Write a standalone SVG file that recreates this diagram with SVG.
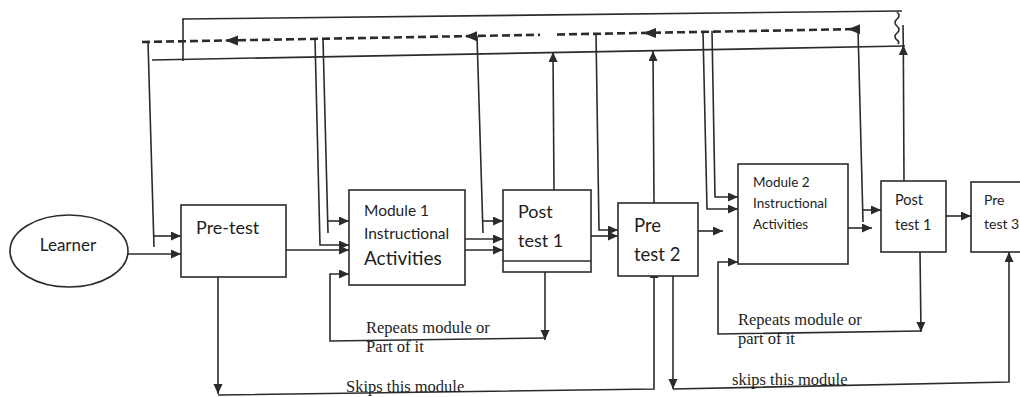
<svg xmlns="http://www.w3.org/2000/svg" width="1020" height="397" viewBox="0 0 1020 397">
<defs>
<marker id="ah" markerUnits="userSpaceOnUse" markerWidth="11" markerHeight="10" refX="10" refY="4.5" orient="auto">
<path d="M0,0 L10,4.5 L0,9 z" fill="#2b2b2b"/>
</marker>
<style>
.box{fill:#fff;stroke:#2b2b2b;stroke-width:1.6}
.ln{fill:none;stroke:#2b2b2b;stroke-width:1.6}
.ar{fill:none;stroke:#2b2b2b;stroke-width:1.6;marker-end:url(#ah)}
.dash{fill:none;stroke:#2b2b2b;stroke-width:2.6;stroke-dasharray:8 4}
.dh{fill:#2b2b2b}
.sans{font-family:Lato,"Open Sans","Liberation Sans",sans-serif;fill:#1e1e1e}
.serif{font-family:"Liberation Serif","Times New Roman",serif;fill:#1e1e1e;font-size:16.5px}
</style>
</defs>
<rect width="1020" height="397" fill="#fff"/>

<g id="connectors">
<!-- top feedback lines -->
<path class="ln" d="M182,19 L902,11"/>
<path class="ln" d="M152,60 L905,46"/>
<path class="ln" d="M183,19 L183,61"/>
<path class="dash" d="M142,42 L540,34.8"/>
<path class="dash" d="M557,34.5 L860,29"/>
<polygon class="dh" points="225,40.6 238,35.5 238,45.5"/>
<polygon class="dh" points="465,36.2 477,31.2 477,41.2"/>
<polygon class="dh" points="643,33 656,28 656,38"/>
<polygon class="dh" points="848,29.2 860,24.2 860,34.2"/>
<path class="ln" d="M897,12 q4,3.5 0,7 q-4,3.5 0,7 q4,3.5 0,7 q-4,3.5 0,7 q3,2 1,4"/>

<!-- into Pre-test -->
<path class="ln" d="M148,42 L154,247"/>
<path class="ar" d="M153.7,236 L181,236"/>
<path class="ar" d="M128,254 L181,254"/>

<!-- into Module 1 -->
<path class="ar" d="M315,39 L320,245 L349,245"/>
<path class="ln" d="M323,39 L328,233"/>
<path class="ar" d="M327.6,221 L349,221"/>
<path class="ar" d="M286,250 L349,250"/>

<!-- into Post test 1 -->
<path class="ln" d="M477,36 L483,233"/>
<path class="ar" d="M482.6,221 L503,221"/>
<path class="ar" d="M465,239 L503,239"/>
<path class="ar" d="M465,250 L503,250"/>
<path class="ar" d="M554,190 L553,52"/>

<!-- into Pre test 2 -->
<path class="ar" d="M596,34 L599,230 L618,230"/>
<path class="ar" d="M591,236 L618,236"/>
<path class="ar" d="M654,203 L653,51"/>
<path class="ar" d="M698,231 L723,231"/>

<!-- into Module 2 -->
<path class="ar" d="M703,32 L707,209 L738,209"/>
<path class="ar" d="M712,31 L715,197 L738,197"/>

<!-- into Post test 1 (2) -->
<path class="ln" d="M858,29 L863,222"/>
<path class="ar" d="M862.6,210 L881,210"/>
<path class="ar" d="M848,228 L872,228"/>
<path class="ar" d="M904,181 L903.3,45"/>
<path class="ln" d="M903.3,46 L903,25"/>
<path class="ar" d="M946,216 L971,216"/>

<!-- repeat loop 1 -->
<path class="ar" d="M545,272 L545,340"/>
<path class="ar" d="M545,338 L330,341 L330,274 L349,274"/>
<!-- skip loop 1 -->
<path class="ar" d="M218,277 L218,394"/>
<path class="ar" d="M218,395 L654,389 L654,268"/>
<!-- repeat loop 2 -->
<path class="ar" d="M920,252 L921,332"/>
<path class="ar" d="M921,331 L718,334 L718,262 L738,262"/>
<!-- skip loop 2 -->
<path class="ar" d="M673,266 L673,389"/>
<path class="ar" d="M673,389 L1009,382 L1009,252"/>

<text class="serif" x="366" y="333">Repeats module or</text>
<text class="serif" x="366" y="352">Part of it</text>
<text class="serif" x="346" y="392">Skips this module</text>
<text class="serif" x="738" y="325" font-size="16">Repeats module or</text>
<text class="serif" x="738" y="344" font-size="16">part of it</text>
<text class="serif" x="732" y="385">skips this module</text>
</g>

<g id="learner">
<ellipse class="box" cx="69" cy="251" rx="59" ry="36"/>
<text class="sans" x="68" y="251" font-size="17" text-anchor="middle">Learner</text>
</g>

<g id="pretest">
<rect class="box" x="181" y="205" width="105" height="72"/>
<text class="sans" x="196" y="234" font-size="18">Pre-test</text>
</g>

<g id="module1">
<rect class="box" x="349" y="190" width="116" height="95"/>
<text class="sans" x="364" y="216" font-size="15.5">Module 1</text>
<text class="sans" x="364" y="239" font-size="15.5">Instructional</text>
<text class="sans" x="364" y="265" font-size="19">Activities</text>
</g>

<g id="posttest1">
<rect class="box" x="503" y="190" width="88" height="82"/>
<path class="ln" d="M503,261 L591,261"/>
<text class="sans" x="518" y="218" font-size="18">Post</text>
<text class="sans" x="518" y="247" font-size="18">test 1</text>
</g>

<g id="pretest2">
<rect class="box" x="618" y="203" width="80" height="73"/>
<text class="sans" x="634" y="232" font-size="18.5">Pre</text>
<text class="sans" x="634" y="261" font-size="18.5">test 2</text>
</g>

<g id="module2">
<rect class="box" x="738" y="164" width="110" height="100"/>
<text class="sans" x="753" y="187" font-size="13.5">Module 2</text>
<text class="sans" x="753" y="208" font-size="13.5">Instructional</text>
<text class="sans" x="753" y="229" font-size="13.5">Activities</text>
</g>

<g id="posttest1b">
<rect class="box" x="881" y="181" width="65" height="71"/>
<text class="sans" x="895" y="205" font-size="14.5">Post</text>
<text class="sans" x="895" y="230" font-size="14.5">test 1</text>
</g>

<g id="pretest3">
<rect class="box" x="971" y="182" width="60" height="70"/>
<text class="sans" x="984" y="205" font-size="14">Pre</text>
<text class="sans" x="984" y="229" font-size="14">test 3</text>
</g>
</svg>
